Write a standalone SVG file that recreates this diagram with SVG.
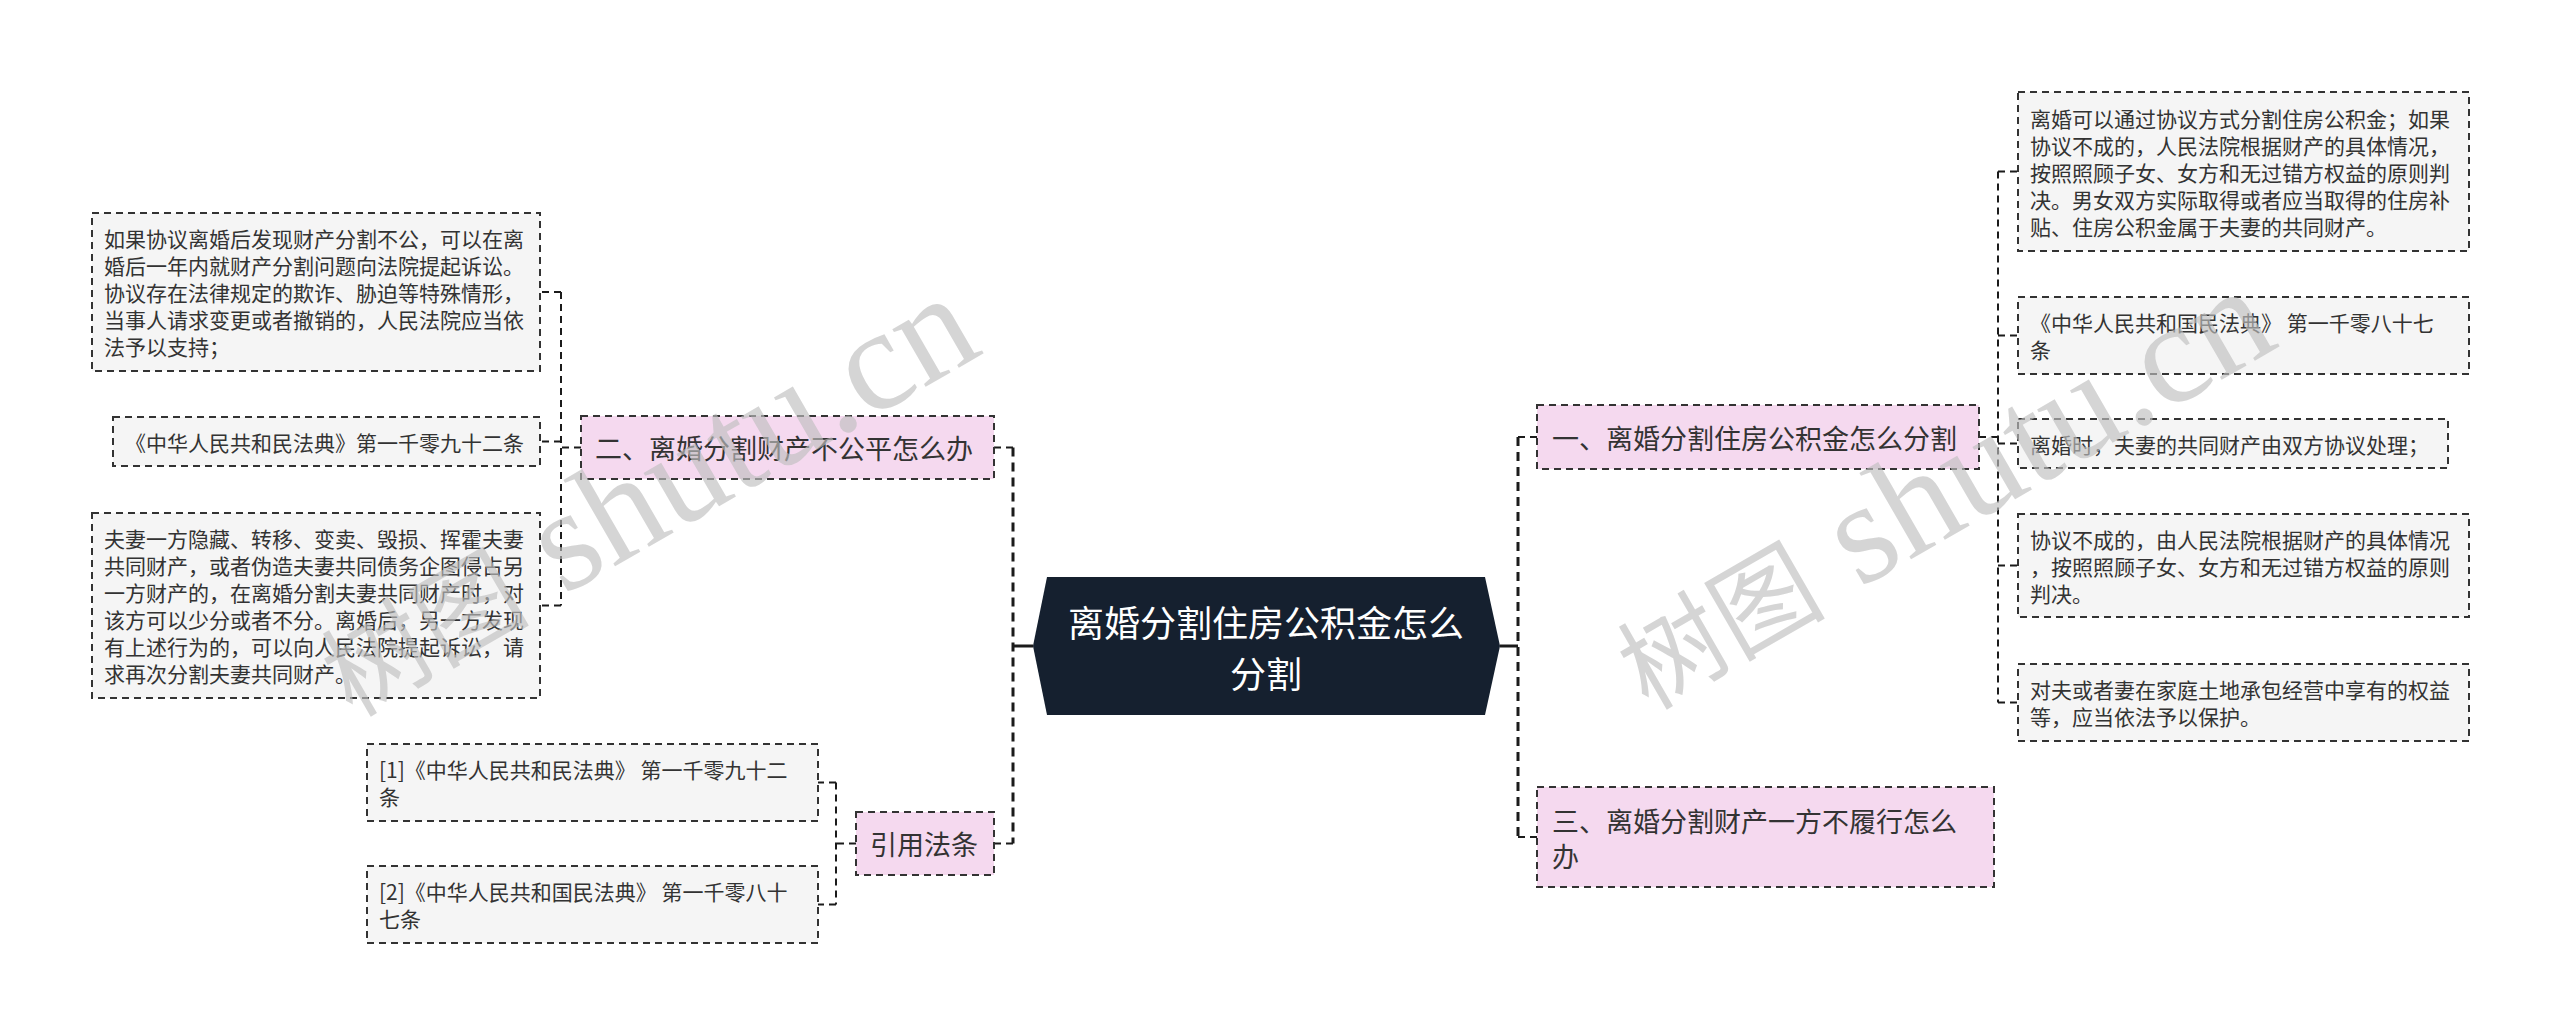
<svg xmlns="http://www.w3.org/2000/svg" width="2560" height="1035" viewBox="0 0 2560 1035">
<style>
.t{font-family:"Noto Sans CJK SC","Noto Sans",sans-serif;fill:#333;dominant-baseline:central}
.s{font-size:21px}
.m{font-size:27px}
.c{font-size:36px;fill:#fff;text-anchor:middle}
.leaf{fill:#f5f5f5;stroke:#333;stroke-width:2;stroke-dasharray:7 5}
.main{fill:#f5d9ef;stroke:#333;stroke-width:2;stroke-dasharray:7 5}
.trunk{fill:none;stroke:#1b1b1b;stroke-width:3;stroke-dasharray:9 6}
.stub{fill:none;stroke:#1b1b1b;stroke-width:2;stroke-dasharray:7 5}
.solid{fill:none;stroke:#1b1b1b;stroke-width:3}
.wm{font-family:"Liberation Serif","Noto Sans CJK SC",serif;font-size:104px;fill:#bfbfbf;fill-opacity:0.65}
.wl{font-size:145px}
</style>
<rect width="2560" height="1035" fill="#fff"/>
<g id="connectors">
<path class="solid" d="M1500 646H1518M1033 646H1013"/>
<path class="trunk" d="M1518 437V837M1013 447.5V843.5"/>
<path class="stub" d="M1518 437H1537M1518 837H1537M1013 447.5H994M1013 843.5H994"/>
<path class="stub" d="M1979 437H1998M1998 171.5V702.5M1998 171.5H2018M1998 335.5H2018M1998 443.5H2018M1998 565.5H2018M1998 702.5H2018"/>
<path class="stub" d="M581 447.5H561M561 292V605.5M561 292H540M561 441.5H540M561 605.5H540"/>
<path class="stub" d="M856 843.5H836M836 782.5V904.5M836 782.5H818M836 904.5H818"/>
</g>
<g id="center">
<polygon points="1047,577 1485,577 1500,646 1485,715 1047,715 1033,646" fill="#15202f"/>
<text class="t c" x="1266" y="621">离婚分割住房公积金怎么</text>
<text class="t c" x="1266" y="672">分割</text>
</g>
<g id="n1">
<rect class="main" x="1537" y="405" width="442" height="64"/>
<text class="t m" x="1552" y="437">一、离婚分割住房公积金怎么分割</text>
</g>
<g id="n3">
<rect class="main" x="1537" y="787" width="457" height="100"/>
<text class="t m" x="1552" y="820">三、离婚分割财产一方不履行怎么</text>
<text class="t m" x="1552" y="855">办</text>
</g>
<g id="n2">
<rect class="main" x="581" y="416" width="413" height="63"/>
<text class="t m" x="595" y="447.5">二、离婚分割财产不公平怎么办</text>
</g>
<g id="n4">
<rect class="main" x="856" y="812" width="138" height="63"/>
<text class="t m" x="870" y="843.5">引用法条</text>
</g>
<g id="b1">
<rect class="leaf" x="2018" y="92" width="451" height="159"/>
<text class="t s" x="2030" y="117.5">离婚可以通过协议方式分割住房公积金；如果</text>
<text class="t s" x="2030" y="144.5">协议不成的，人民法院根据财产的具体情况，</text>
<text class="t s" x="2030" y="171.5">按照照顾子女、女方和无过错方权益的原则判</text>
<text class="t s" x="2030" y="198.5">决。男女双方实际取得或者应当取得的住房补</text>
<text class="t s" x="2030" y="225.5">贴、住房公积金属于夫妻的共同财产。</text>
</g>
<g id="b2">
<rect class="leaf" x="2018" y="297" width="451" height="77"/>
<text class="t s" x="2030" y="322">《中华人民共和国民法典》 第一千零八十七</text>
<text class="t s" x="2030" y="349">条</text>
</g>
<g id="b3">
<rect class="leaf" x="2018" y="419" width="430" height="49"/>
<text class="t s" x="2030" y="443.5">离婚时，夫妻的共同财产由双方协议处理；</text>
</g>
<g id="b4">
<rect class="leaf" x="2018" y="514" width="451" height="103"/>
<text class="t s" x="2030" y="538.5">协议不成的，由人民法院根据财产的具体情况</text>
<text class="t s" x="2030" y="565.5">，按照照顾子女、女方和无过错方权益的原则</text>
<text class="t s" x="2030" y="592.5">判决。</text>
</g>
<g id="b5">
<rect class="leaf" x="2018" y="664" width="451" height="77"/>
<text class="t s" x="2030" y="689">对夫或者妻在家庭土地承包经营中享有的权益</text>
<text class="t s" x="2030" y="716">等，应当依法予以保护。</text>
</g>
<g id="l1">
<rect class="leaf" x="92" y="213" width="448" height="158"/>
<text class="t s" x="104" y="238">如果协议离婚后发现财产分割不公，可以在离</text>
<text class="t s" x="104" y="265">婚后一年内就财产分割问题向法院提起诉讼。</text>
<text class="t s" x="104" y="292">协议存在法律规定的欺诈、胁迫等特殊情形，</text>
<text class="t s" x="104" y="319">当事人请求变更或者撤销的，人民法院应当依</text>
<text class="t s" x="104" y="346">法予以支持；</text>
</g>
<g id="l2">
<rect class="leaf" x="113" y="417" width="427" height="49"/>
<text class="t s" x="125" y="441.5">《中华人民共和民法典》第一千零九十二条</text>
</g>
<g id="l3">
<rect class="leaf" x="92" y="513" width="448" height="185"/>
<text class="t s" x="104" y="538">夫妻一方隐藏、转移、变卖、毁损、挥霍夫妻</text>
<text class="t s" x="104" y="565">共同财产，或者伪造夫妻共同债务企图侵占另</text>
<text class="t s" x="104" y="592">一方财产的，在离婚分割夫妻共同财产时，对</text>
<text class="t s" x="104" y="619">该方可以少分或者不分。离婚后，另一方发现</text>
<text class="t s" x="104" y="646">有上述行为的，可以向人民法院提起诉讼，请</text>
<text class="t s" x="104" y="673">求再次分割夫妻共同财产。</text>
</g>
<g id="r1">
<rect class="leaf" x="367" y="744" width="451" height="77"/>
<text class="t s" x="379" y="769">[1]《中华人民共和民法典》 第一千零九十二</text>
<text class="t s" x="379" y="796">条</text>
</g>
<g id="r2">
<rect class="leaf" x="367" y="866" width="451" height="77"/>
<text class="t s" x="379" y="891">[2]《中华人民共和国民法典》 第一千零八十</text>
<text class="t s" x="379" y="918">七条</text>
</g>
<g id="watermark">
<text class="wm" x="352" y="718" transform="rotate(-30 352 718)">树图<tspan class="wl"> shutu.cn</tspan></text>
<text class="wm" x="1648" y="711" transform="rotate(-30 1648 711)">树图<tspan class="wl"> shutu.cn</tspan></text>
</g>
</svg>
